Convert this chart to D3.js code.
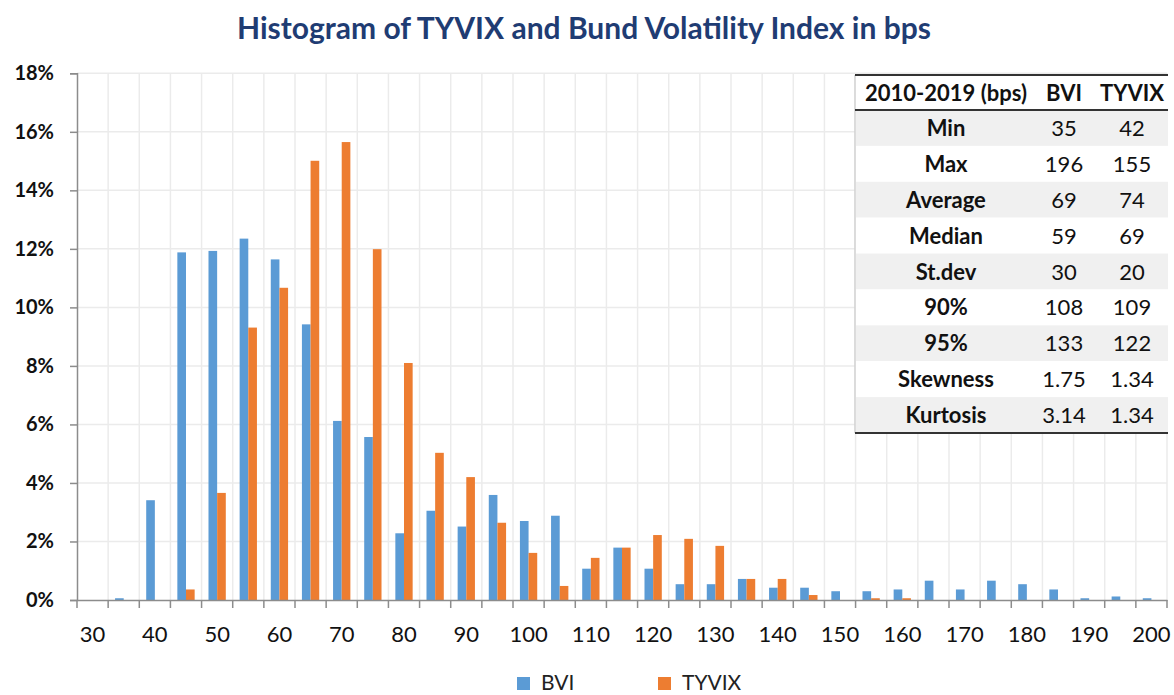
<!DOCTYPE html>
<html>
<head>
<meta charset="utf-8">
<script src="https://cdn.jsdelivr.net/npm/d3@7"></script>
<style>
  body { margin: 0; background: #fff; }
  text { font-family: Lato, "Open Sans", sans-serif; }
</style>
</head>
<body>
<div id="chart"></div>
<script>
// bins of 5 bps, 30..200
var bins = [30, 35, 40, 45, 50, 55, 60, 65, 70, 75, 80, 85, 90, 95, 100, 105, 110, 115, 120,
            125, 130, 135, 140, 145, 150, 155, 160, 165, 170, 175, 180, 185, 190, 195, 200];
var bvi = [0, 0.0006, 0.0341, 0.1188, 0.1193, 0.1235, 0.1164, 0.0942, 0.0612, 0.0557, 0.0228,
           0.0305, 0.0251, 0.0359, 0.0270, 0.0288, 0.0107, 0.0179, 0.0107, 0.0054, 0.0054,
           0.0072, 0.0042, 0.0042, 0.0030, 0.0030, 0.0036, 0.0066, 0.0036, 0.0066, 0.0054,
           0.0036, 0.0006, 0.0012, 0.0006];
var tyvix = [0, 0, 0, 0.0036, 0.0366, 0.0931, 0.1067, 0.1501, 0.1565, 0.1199, 0.0810,
             0.0503, 0.0420, 0.0264, 0.0161, 0.0048, 0.0144, 0.0179, 0.0222, 0.0209, 0.0185,
             0.0072, 0.0072, 0.0017, 0, 0.0006, 0.0006, 0, 0, 0, 0,
             0, 0, 0, 0];
var seriesNames = ["BVI", "TYVIX"];
var seriesColors = ["#5B9BD5", "#ED7D31"];
var yTicks = [0, 0.02, 0.04, 0.06, 0.08, 0.10, 0.12, 0.14, 0.16, 0.18];

// stats table
var tableHeader = ["2010-2019 (bps)", "BVI", "TYVIX"];
var statLabels = ["Min", "Max", "Average", "Median", "St.dev", "90%", "95%", "Skewness", "Kurtosis"];
var bviStats = ["35", "196", "69", "59", "30", "108", "133", "1.75", "3.14"];
var tyvixStats = ["42", "155", "74", "69", "20", "109", "122", "1.34", "1.34"];

var width = 1174, height = 695;
var pLeft = 77, pRight = 1167, pTop = 73.3, pBottom = 600;

var svg = d3.select("#chart").append("svg").attr("width", width).attr("height", height);

svg.append("text")
    .attr("x", 584).attr("y", 39)
    .attr("text-anchor", "middle")
    .attr("font-size", 30).attr("font-weight", "bold")
    .attr("fill", "#1F3C73")
    .text("Histogram of TYVIX and Bund Volatility Index in bps");

var x = d3.scaleBand().domain(bins).range([pLeft, pRight]);
var xs = d3.scaleBand().domain(seriesNames).range([0, x.bandwidth()]).paddingOuter(0.8);
var y = d3.scaleLinear().domain([0, 0.18]).range([pBottom, pTop]);

// grid
var grid = svg.append("g").attr("stroke", "#ebebeb").attr("stroke-width", 1.5);
grid.selectAll("line.h").data(yTicks.slice(1)).enter().append("line")
    .attr("x1", pLeft).attr("x2", pRight)
    .attr("y1", function(d) { return y(d); }).attr("y2", function(d) { return y(d); });
var bounds = bins.map(function(b) { return x(b); }).concat([pRight]);
grid.selectAll("line.v").data(bounds.slice(1)).enter().append("line")
    .attr("y1", pTop).attr("y2", pBottom)
    .attr("x1", function(d) { return d; }).attr("x2", function(d) { return d; });

// bars
var sets = [bvi, tyvix];
sets.forEach(function(vals, si) {
    svg.append("g").selectAll("rect").data(bins).enter().append("rect")
        .attr("x", function(d) { return x(d) + xs(seriesNames[si]); })
        .attr("width", xs.bandwidth())
        .attr("y", function(d, i) { return y(vals[i]); })
        .attr("height", function(d, i) { return pBottom - y(vals[i]); })
        .attr("fill", seriesColors[si]);
});

// y axis
var yAxis = svg.append("g").attr("transform", "translate(" + pLeft + ",0)")
    .call(d3.axisLeft(y).tickValues(yTicks).tickFormat(d3.format(".0%")).tickSize(7).tickPadding(16));
yAxis.select(".domain").attr("stroke", "#8c8c8c").attr("stroke-width", 1.5);
yAxis.selectAll(".tick line").attr("stroke", "#8c8c8c").attr("stroke-width", 1.5);
yAxis.selectAll(".tick text").attr("font-size", 20).attr("font-weight", "bold")
    .attr("fill", "#111").attr("font-family", "Lato, sans-serif");

// x axis
var xAxis = svg.append("g").attr("transform", "translate(0," + pBottom + ")")
    .call(d3.axisBottom(x).tickSize(0).tickPadding(26)
        .tickFormat(function(d, i) { return i % 2 == 0 ? d : ""; }));
xAxis.select(".domain").attr("stroke", "#8c8c8c").attr("stroke-width", 1.5);
xAxis.selectAll(".tick text").attr("font-size", 22).attr("fill", "#111")
    .attr("font-family", "Lato, sans-serif");
xAxis.selectAll("line.b").data(bounds).enter().append("line")
    .attr("x1", function(d) { return d; }).attr("x2", function(d) { return d; })
    .attr("y1", 0).attr("y2", 8)
    .attr("stroke", "#8c8c8c").attr("stroke-width", 1.5);

// legend
var legX = [517, 658];
seriesNames.forEach(function(n, i) {
    svg.append("rect").attr("x", legX[i]).attr("y", 677).attr("width", 13).attr("height", 13)
        .attr("fill", seriesColors[i]);
    svg.append("text").attr("x", legX[i] + 24).attr("y", 690)
        .attr("font-size", 21).attr("fill", "#222").text(n);
});

// stats table
var tx0 = 855, tx1 = 1168, ty0 = 75, hy = 110, ty1 = 433;
var rowH = (ty1 - hy) / statLabels.length;
var colX = [946, 1064, 1132];
var tbl = svg.append("g");
tbl.append("rect").attr("x", tx0).attr("y", ty0).attr("width", tx1 - tx0).attr("height", ty1 - ty0)
    .attr("fill", "#fff");
tbl.append("line").attr("x1", tx0).attr("x2", tx0).attr("y1", ty0).attr("y2", ty1)
    .attr("stroke", "#d0d0d0").attr("stroke-width", 1.5);
tbl.selectAll("rect.row").data(statLabels).enter().append("rect")
    .attr("x", tx0 + 1).attr("width", tx1 - tx0 - 1)
    .attr("y", function(d, i) { return hy + i * rowH; })
    .attr("height", rowH)
    .attr("fill", function(d, i) { return i % 2 == 0 ? "#f0f0f0" : "#fff"; });
[ty0, hy, ty1].forEach(function(ly) {
    tbl.append("line").attr("x1", tx0).attr("x2", tx1).attr("y1", ly).attr("y2", ly)
        .attr("stroke", "#333").attr("stroke-width", 2);
});
tableHeader.forEach(function(h, j) {
    tbl.append("text").attr("x", colX[j]).attr("y", (ty0 + hy) / 2 + 8)
        .attr("text-anchor", "middle").attr("font-size", 22).attr("font-weight", "bold")
        .attr("fill", "#111").text(h);
});
var cols = [statLabels, bviStats, tyvixStats];
cols.forEach(function(col, j) {
    tbl.selectAll("text.c" + j).data(col).enter().append("text")
        .attr("x", colX[j])
        .attr("y", function(d, i) { return hy + i * rowH + rowH / 2 + 8; })
        .attr("text-anchor", "middle").attr("font-size", 22)
        .attr("font-weight", j == 0 ? "bold" : "normal")
        .attr("fill", "#111").text(function(d) { return d; });
});
</script>
</body>
</html>
